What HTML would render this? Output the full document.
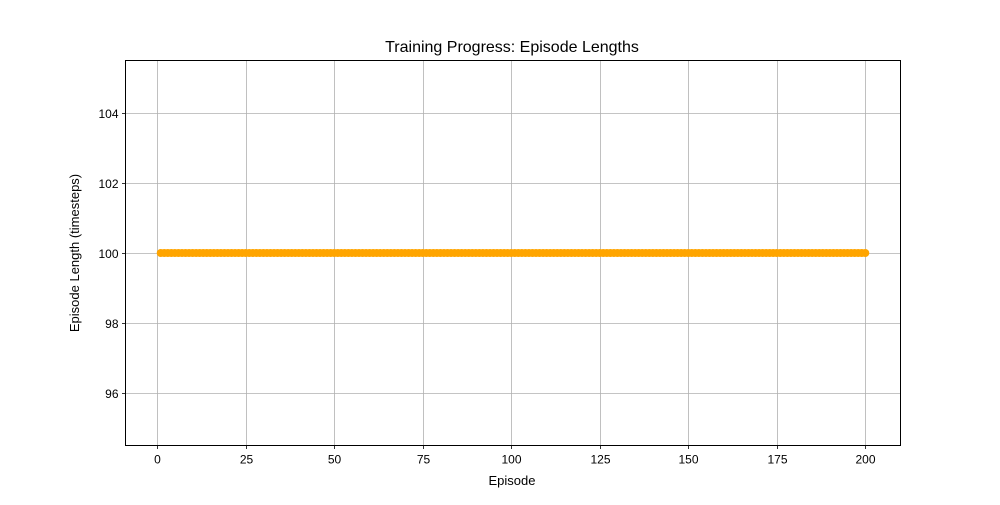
<!DOCTYPE html>
<html><head><meta charset="utf-8"><style>
html,body{margin:0;padding:0;background:#fff;}
svg text{font-family:"Liberation Sans","DejaVu Sans",sans-serif;fill:#000;}
</style></head><body>
<svg id="chart" width="1000" height="500" xmlns="http://www.w3.org/2000/svg">
<rect width="1000" height="500" fill="#fff"/>
<g id="grid"></g>
<g id="series"></g>
<rect x="125.5" y="60.5" width="775" height="385" fill="none" stroke="#000" stroke-width="1"/>
<g id="xticks"></g>
<g id="yticks"></g>
<text x="512" y="52" font-size="16" text-anchor="middle">Training Progress: Episode Lengths</text>
<text x="512" y="485" font-size="13" text-anchor="middle">Episode</text>
<text x="0" y="0" font-size="13" text-anchor="middle" transform="translate(79,253) rotate(-90)">Episode Length (timesteps)</text>
</svg>
<script>
const xTicks = [0,25,50,75,100,125,150,175,200];
const yTicks = [96,98,100,102,104];
const lengths = [
100,100,100,100,100,100,100,100,100,100,
100,100,100,100,100,100,100,100,100,100,
100,100,100,100,100,100,100,100,100,100,
100,100,100,100,100,100,100,100,100,100,
100,100,100,100,100,100,100,100,100,100,
100,100,100,100,100,100,100,100,100,100,
100,100,100,100,100,100,100,100,100,100,
100,100,100,100,100,100,100,100,100,100,
100,100,100,100,100,100,100,100,100,100,
100,100,100,100,100,100,100,100,100,100,
100,100,100,100,100,100,100,100,100,100,
100,100,100,100,100,100,100,100,100,100,
100,100,100,100,100,100,100,100,100,100,
100,100,100,100,100,100,100,100,100,100,
100,100,100,100,100,100,100,100,100,100,
100,100,100,100,100,100,100,100,100,100,
100,100,100,100,100,100,100,100,100,100,
100,100,100,100,100,100,100,100,100,100,
100,100,100,100,100,100,100,100,100,100,
100,100,100,100,100,100,100,100,100,100
];
const NS="http://www.w3.org/2000/svg";
const L=125.5,R=900.5,T=60.5,B=445.5;
const xMin=-8.95,xMax=209.95,yMin=94.5,yMax=105.5;
const xs=v=>L+(v-xMin)/(xMax-xMin)*(R-L);
const ys=v=>B-(v-yMin)/(yMax-yMin)*(B-T);
function mk(tag,attrs,parent){const e=document.createElementNS(NS,tag);for(const k in attrs)e.setAttribute(k,attrs[k]);parent.appendChild(e);return e;}
const grid=document.getElementById('grid'),xt=document.getElementById('xticks'),yt=document.getElementById('yticks'),ser=document.getElementById('series');
xTicks.forEach(v=>{const x=Math.round(xs(v))+0.5;
 const g=mk('line',{x1:x,x2:x,y1:T,y2:B,stroke:'#b0b0b0','stroke-width':0.8},grid);
 
 
 const t=mk('line',{x1:x,x2:x,y1:B,y2:B+3.5,stroke:'#000','stroke-width':0.8},xt);
 
 
 const l=mk('text',{x:x,y:B+18,'font-size':12,'text-anchor':'middle'},xt);l.textContent=v;
 
 
});
yTicks.forEach(v=>{const y=Math.round(ys(v))+0.5;
 const g=mk('line',{x1:L,x2:R,y1:y,y2:y,stroke:'#b0b0b0','stroke-width':0.8},grid);
 
 
 const t=mk('line',{x1:L-3.5,x2:L,y1:y,y2:y,stroke:'#000','stroke-width':0.8},yt);
 
 
 const l=mk('text',{x:L-7,y:y+4.5,'font-size':12,'text-anchor':'end'},yt);l.textContent=v;
 
 
});
const pts=lengths.map((v,i)=>[xs(i+1),ys(v)]);
const line=mk('polyline',{points:pts.map(p=>p.join(',')).join(' '),fill:'none',stroke:'#ffa500','stroke-width':1.5},ser);


pts.forEach(p=>{const c=mk('circle',{cx:p[0],cy:p[1],r:4,fill:'#ffa500'},ser);
 
 
});
</script>
</body></html>
